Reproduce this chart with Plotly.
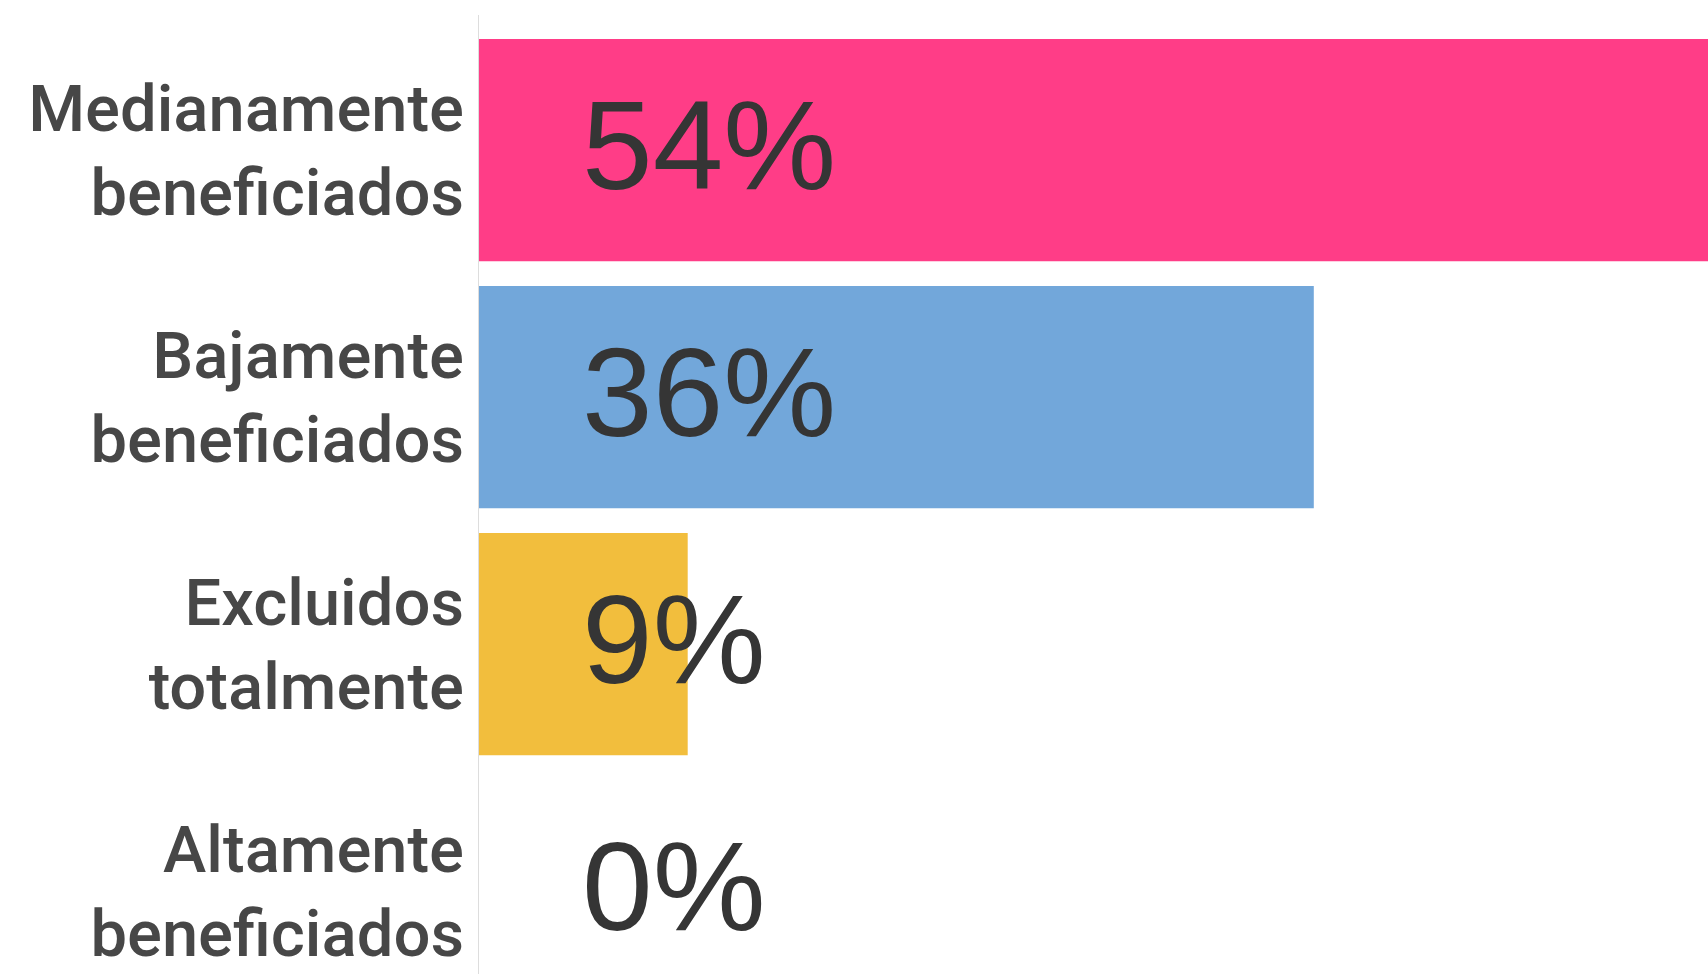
import plotly.graph_objects as go

categories = ["Medianamente<br>beneficiados", "Bajamente<br>beneficiados",
              "Excluidos<br>totalmente", "Altamente<br>beneficiados"]
values = [54, 36, 9, 0]
labels = ["54%", "36%", "9%", "0%"]
colors = ["#FF3D87", "#72A7DA", "#F2BE3D", "#A0A0A0"]
label_x = 4.36

fig = go.Figure()
fig.add_trace(go.Bar(
    x=values, y=categories, orientation="h",
    marker=dict(color=colors, line=dict(width=0)),
    hoverinfo="skip", showlegend=False,
))

for cat, lab in zip(categories, labels):
    fig.add_annotation(
        x=label_x, y=cat, xref="x", yref="y", text=lab, showarrow=False,
        xanchor="left", yanchor="middle", yshift=5,
        font=dict(family="Liberation Sans, Arial", size=127, color="#353535"),
    )

fig.update_layout(
    width=1708, height=974,
    margin=dict(l=479, r=0, t=15, b=0, autoexpand=False),
    paper_bgcolor="white", plot_bgcolor="white",
    bargap=0.1,
    xaxis=dict(range=[0, 53], showgrid=False, zeroline=False, automargin=False,
               showticklabels=False, showline=False),
    yaxis=dict(range=[3.336, -0.547], showgrid=False, zeroline=False, automargin=False,
               showline=True, linecolor="#DDDDDD", linewidth=1,
               ticks="", ticklabelstandoff=1,
               tickfont=dict(family="Roboto Medium, Roboto", size=65, color="#474747", weight=500)),
)

fig.write_html(
    "out.html",
    config={"displayModeBar": False},
    post_script="document.body.style.margin='0';"
                "document.documentElement.style.overflow='hidden';"
                "document.body.style.overflow='hidden';",
)
